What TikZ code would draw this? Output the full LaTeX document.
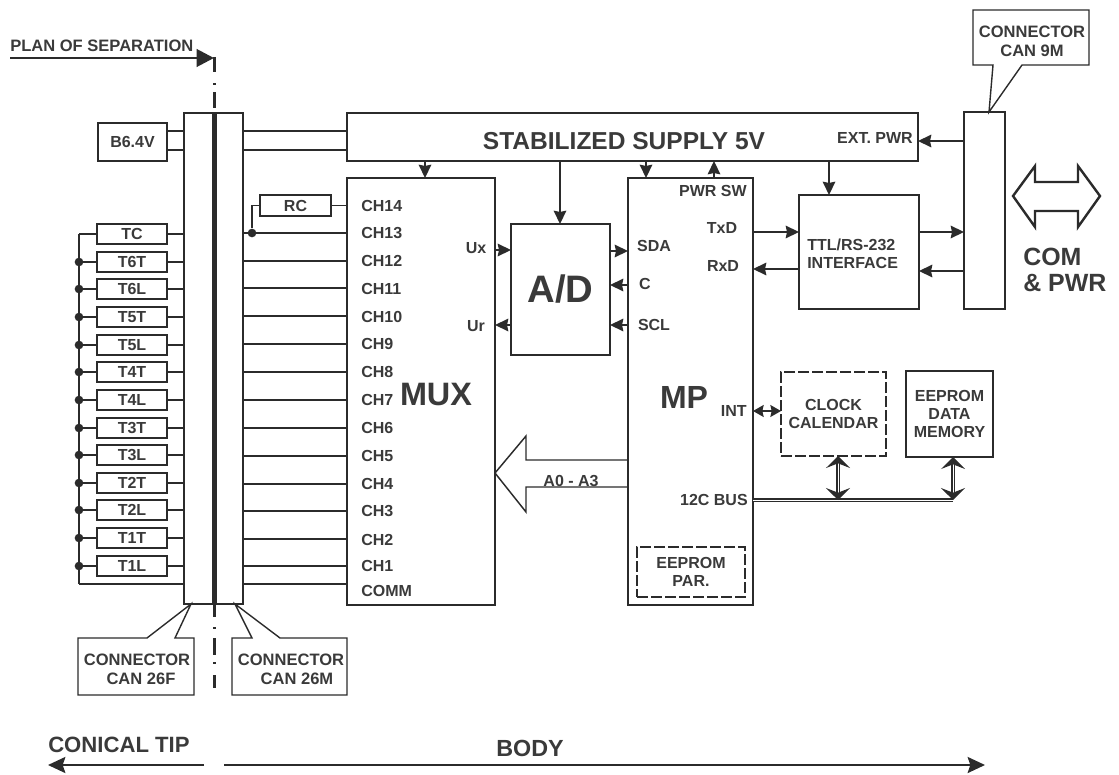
\documentclass[tikz,border=0pt]{standalone}
\usepackage{fontspec}
\setmainfont{Liberation Sans}
\usetikzlibrary{arrows.meta,calc}
\definecolor{ink}{HTML}{2B2B2B}
\definecolor{txt}{HTML}{3A3A3A}
\newcommand{\bx}[7][]{% style, name, x1,y1,x2,y2, text
  \pgfmathsetmacro{\cx}{(#3+#5)/2}\pgfmathsetmacro{\cy}{(#4+#6)/2}
  \pgfmathsetmacro{\ww}{(#5-#3)*0.75}\pgfmathsetmacro{\hh}{(#6-#4)*0.75}
  \node[box,#1,minimum width=\ww pt,minimum height=\hh pt] (#2) at (\cx,\cy) {#7};}
\tikzset{
  box/.style={draw=ink,line width=2.05pt,inner sep=0pt,outer sep=0pt,align=center,text=txt,font=\bfseries\fontsize{12}{13.5}\selectfont},
  dbox/.style={dash pattern=on 8pt off 2.5pt},
  wire/.style={draw=ink,line width=1.05pt},
  arr/.style={wire,-{Stealth[length=10pt,width=9.5pt,inset=1pt]}},
  darr/.style={wire,{Stealth[length=8pt,width=9pt,inset=1pt]}-{Stealth[length=8pt,width=9pt,inset=1pt]}},
  busline/.style={draw=ink,line width=1pt,double=white,double distance=.7pt},
  busarr/.style={busline,{Stealth[length=9pt,width=18pt,inset=3.5pt]}-{Stealth[length=9pt,width=18pt,inset=3.5pt]}},
  lab/.style={text=txt,inner sep=0pt,font=\bfseries\fontsize{12}{13.5}\selectfont,align=center},
  wlab/.style={lab,font=\bfseries\fontsize{12.4}{13.5}\selectfont},
  dotn/.style={circle,fill=ink,inner sep=0pt,minimum size=6.5pt},
  sep/.style={draw=ink,line width=2.2pt},
}
\begin{document}
\begin{tikzpicture}[x=0.75pt,y=-0.75pt]
\useasboundingbox (0,0) rectangle (1119,774);
% plan of separation
\node[wlab,anchor=west] (plan) at (10,46) {PLAN OF SEPARATION};
\coordinate (pa) at (10,58);
\coordinate (pb) at (214,58);
\draw[draw=ink,line width=2.2pt,-{Stealth[length=13pt,width=13pt,inset=0pt]}] (pa) -- (pb);
\coordinate (sa) at (214.5,57);
\coordinate (sb) at (214.5,72);
\coordinate (sc) at (214.5,83);
\coordinate (sd) at (214.5,92);
\coordinate (se) at (214.5,108);
\draw[sep] (sa) -- (sb);
\draw[sep] (sc) -- ++(0,2);
\draw[sep] (sd) -- (se);
% connector block
\bx{connl}{184}{113}{214.5}{604}{}
\bx{connr}{214.5}{113}{243}{604}{}
\draw[draw=ink,line width=4.2pt] (connl.north east) -- (connl.south east);
\coordinate (sf) at (214.5,605);
\draw[sep] (sf) -- ++(0,12);
\coordinate (sg) at (214.5,627);
\draw[sep] (sg) -- ++(0,2);
\coordinate (sh) at (214.5,638);
\draw[sep] (sh) -- ++(0,17);
\coordinate (si) at (214.5,662);
\draw[sep] (si) -- ++(0,2);
\coordinate (sj) at (214.5,675);
\draw[sep] (sj) -- ++(0,13);
% supply
\bx{sup}{347}{113}{918}{161}{}
\node[lab,font=\bfseries\fontsize{18.4}{20}\selectfont] (suplab) at (624,141) {STABILIZED SUPPLY 5V};
\node[lab,anchor=east] (ext) at (913,138) {EXT. PWR};
% B6.4V
\bx{bat}{98}{123}{167}{161}{B6.4V}
\coordinate (b1) at (0,131); \coordinate (b2) at (0,150);
\draw[wire] (bat.east |- b1) -- (connl.west |- b1);
\draw[wire] (bat.east |- b2) -- (connl.west |- b2);
\draw[wire] (connr.east |- b1) -- (sup.west |- b1);
\draw[wire] (connr.east |- b2) -- (sup.west |- b2);
% A0-A3 hollow arrow
\draw[draw=ink,line width=1.1pt] (628,460) -- (526,460) -- (526,436) -- (495,473) -- (526,512) -- (526,487) -- (628,487);
\node[lab] (a03) at (571,481) {A0 - A3};
% MUX, MP, A/D
\bx{mux}{347}{178}{495}{605}{}
\node[lab,font=\bfseries\fontsize{24.3}{26}\selectfont] (muxlab) at (436,395) {MUX};
\bx{mp}{628}{178}{753}{605}{}
\node[lab,font=\bfseries\fontsize{24}{26}\selectfont] (mplab) at (684,397) {MP};
\bx[font=\bfseries\fontsize{28.7}{30}\selectfont]{ad}{511}{224}{610}{355}{A/D}
% channel lines
\foreach \nm/\yy in {c13/233,c12/261,c11/288,c10/316,c9/344,c8/372,c7/400,c6/428,c5/456,c4/484,c3/511,c2/539,c1/566,c0/584}{
  \coordinate (\nm) at (0,\yy);
  \draw[wire] (connr.east |- \nm) -- (mux.west |- \nm);
}
\foreach \nm/\lbl/\yy in {l14/CH14/206,l13/CH13/233,l12/CH12/261,l11/CH11/289,l10/CH10/317,l9/CH9/344,l8/CH8/372,l7/CH7/400,l6/CH6/428,l5/CH5/456,l4/CH4/484,l3/CH3/511,l2/CH2/540,l1/CH1/566,l0/COMM/591}{
  \node[lab,anchor=west] (\nm) at (361,\yy) {\lbl};
}
% RC
\bx{rc}{260}{195}{331}{216}{RC}
\draw[wire] (rc.east) -- (mux.west |- rc.east);
\node[dotn] (rcdot) at (252,233) {};
\draw[wire] (rc.west) -| (rcdot);
% sensors
\coordinate (bust) at (79,234);
\coordinate (busb) at (79,584);
\draw[wire] (bust) -- (busb);
\draw[wire] (busb) -- (connl.west |- busb);
\foreach \nm/\lbl/\yy in {tc/TC/234,t6t/T6T/262,t6l/T6L/289,t5t/T5T/317,t5l/T5L/345,t4t/T4T/372,t4l/T4L/400,t3t/T3T/428,t3l/T3L/455,t2t/T2T/483,t2l/T2L/510,t1t/T1T/538,t1l/T1L/566}{
  \pgfmathsetmacro{\ya}{\yy-10}\pgfmathsetmacro{\yb}{\yy+10}
  \bx{\nm}{97}{\ya}{167}{\yb}{\lbl}
  \draw[wire] (\nm.east) -- (connl.west |- \nm.east);
  \draw[wire] (\nm.west) -- (bust |- \nm.west);
}
\foreach \nm in {t6t,t6l,t5t,t5l,t4t,t4l,t3t,t3l,t2t,t2l,t1t,t1l}{
  \node[dotn] (d\nm) at (bust |- \nm.west) {};
}
% callouts left
\coordinate (pl) at (191,604); \coordinate (pr) at (235,604);
\draw[wire] (175,638) -- (194,638) -- (194,695) -- (78,695) -- (78,638) -- (147,638) -- (pl) -- cycle;
\draw[wire] (252,638) -- (232,638) -- (232,695) -- (347,695) -- (347,638) -- (280,638) -- (pr) -- cycle;
\node[wlab] (cf1) at (137,660) {CONNECTOR};
\node[wlab] (cf2) at (141,679) {CAN 26F};
\node[wlab] (cm1) at (291,660) {CONNECTOR};
\node[wlab] (cm2) at (297,679) {CAN 26M};
% supply arrows
\draw[arr] (425,161) -- (425,178);
\draw[arr] (646,161) -- (646,178);
\draw[arr] (714,178) -- (714,161);
\draw[arr] (560,161) -- (ad.north -| 560,0);
\node[lab,anchor=east] (pwrsw) at (747,191) {PWR SW};
% A/D links
\node[lab] (ux) at (476,248) {Ux};
\node[lab] (ur) at (476,326) {Ur};
\coordinate (yux) at (0,250); \coordinate (yur) at (0,325);
\draw[arr] (mux.east |- yux) -- (ad.west |- yux);
\draw[arr] (ad.west |- yur) -- (mux.east |- yur);
\node[lab] (sda) at (654,246) {SDA};
\node[lab] (cl) at (645,284) {C};
\node[lab] (scl) at (654,325) {SCL};
\coordinate (ysda) at (0,251); \coordinate (yc) at (0,285); \coordinate (yscl) at (0,325);
\draw[arr] (ad.east |- ysda) -- (mp.west |- ysda);
\draw[arr] (mp.west |- yc) -- (ad.east |- yc);
\draw[arr] (mp.west |- yscl) -- (ad.east |- yscl);
% TTL
\bx{ttl}{799}{195}{919}{309}{}
\node[lab,align=left,anchor=west] (ttllab) at (807,254) {TTL/RS-232\\INTERFACE};
\node[lab] (txd) at (722,228) {TxD};
\node[lab] (rxd) at (723,266) {RxD};
\coordinate (y1) at (0,232); \coordinate (y2) at (0,269); \coordinate (y3) at (0,271);
\draw[arr] (mp.east |- y1) -- (ttl.west |- y1);
\draw[arr] (ttl.west |- y2) -- (mp.east |- y2);
\draw[arr] (829,161) -- (829,195);
% right connector
\bx{can}{964}{112}{1005}{309}{}
\draw[arr] (ttl.east |- y1) -- (can.west |- y1);
\draw[arr] (can.west |- y3) -- (ttl.east |- y3);
\coordinate (y4) at (0,141);
\draw[arr] (can.west |- y4) -- (sup.east |- y4);
% callout right
\coordinate (pc) at (989,112);
\draw[wire] (993,65) -- (973,65) -- (973,10) -- (1089,10) -- (1089,65) -- (1022,65) -- (pc) -- cycle;
\node[wlab] (cn1) at (1032,32) {CONNECTOR};
\node[wlab] (cn2) at (1032,51) {CAN 9M};
% com arrow
\draw[draw=ink,line width=1.8pt,fill=white] (1013,196) -- (1035,166) -- (1035,182) -- (1078,182) -- (1078,166) -- (1100,196) -- (1078,227) -- (1078,211) -- (1035,211) -- (1035,227) -- cycle;
\node[lab,align=left,anchor=west,font=\bfseries\fontsize{18.7}{20}\selectfont] (com) at (1023,270) {COM\\\& PWR};
% lower right
\bx[dbox]{clock}{781}{372}{886}{456}{CLOCK\\CALENDAR}
\bx{eep}{906}{371}{993}{457}{EEPROM\\DATA\\MEMORY}
\bx[dbox]{par}{637}{547}{745}{597}{EEPROM\\PAR.}
\node[lab,anchor=east] (int) at (747,411) {INT};
\node[lab,anchor=east] (i2c) at (748,500) {12C BUS};
\draw[darr] (mp.east |- int) -- (clock.west |- int);
\coordinate (bend) at (953,500);
\draw[busline] (mp.east |- bend) -- (bend);
\coordinate (s1) at (838,500);
\draw[busarr] (clock.south -| s1) -- (s1);
\draw[busarr] (eep.south -| bend) -- (bend);
% bottom
\node[lab,font=\bfseries\fontsize{16.6}{18}\selectfont,anchor=west] (tip) at (48,745) {CONICAL TIP};
\node[lab,font=\bfseries\fontsize{17.5}{19}\selectfont] (body) at (530,748) {BODY};
\coordinate (a1) at (204,765); \coordinate (a2) at (48,765); \coordinate (a3) at (224,765); \coordinate (a4) at (985,765);
\draw[draw=ink,line width=1.8pt,-{Stealth[length=13pt,width=12pt,inset=2pt]}] (a1) -- (a2);
\draw[draw=ink,line width=1.8pt,-{Stealth[length=13pt,width=12pt,inset=2pt]}] (a3) -- (a4);
\end{tikzpicture}
\end{document}
